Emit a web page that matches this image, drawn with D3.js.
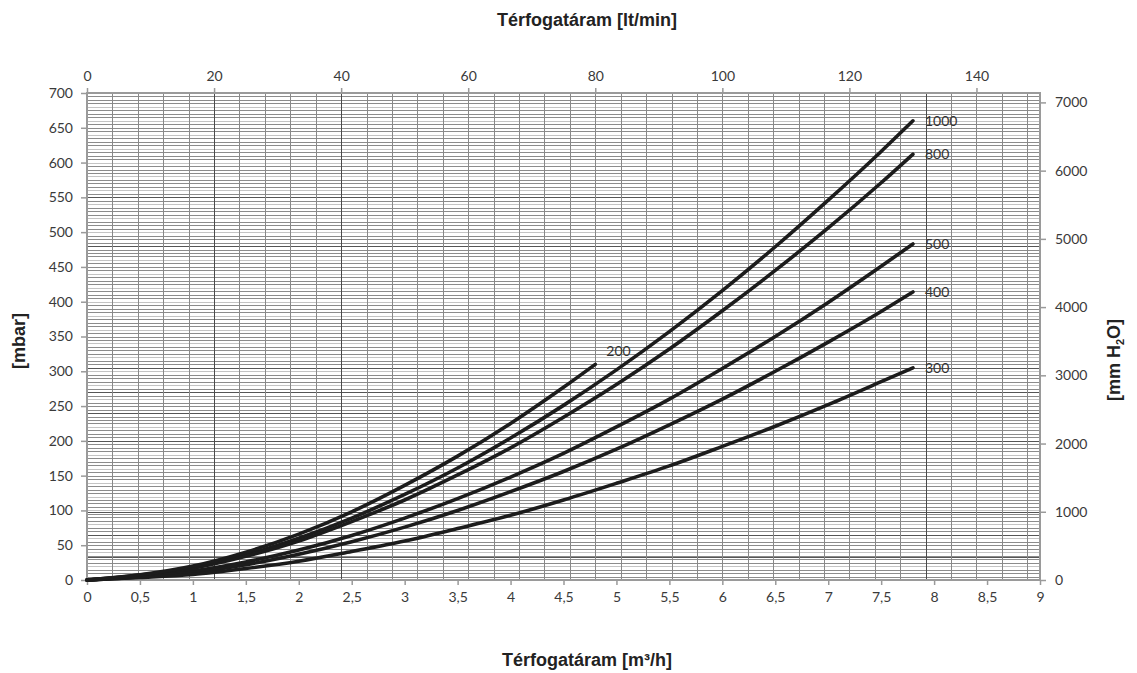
<!DOCTYPE html>
<html><head><meta charset="utf-8">
<script src="https://cdn.jsdelivr.net/npm/d3@7"></script>
<style>
html,body{margin:0;padding:0;background:#fff;}
svg{display:block;}
.tick text{font-family:Lato,"Open Sans",sans-serif;font-size:14px;fill:#3a3a3a;}
.ttl{font-family:"Liberation Sans",Arial,sans-serif;font-weight:bold;font-size:18px;fill:#222;}
.lbl{font-family:Lato,"Open Sans",sans-serif;font-size:14px;fill:#333;}
</style></head>
<body><svg id="c" width="1137" height="673"></svg>
<script>
// ---- data ----
const flowM3h = [0,0.5,1,1.5,2,2.5,3,3.5,4,4.5,5,5.5,6,6.5,7,7.5,7.8];
const flow200 = [0,0.5,1,1.5,2,2.5,3,3.5,4,4.5,4.8];
const p1000 = [0,7,18,36,60,89,123,161,204,251,302,357,416,479,546,616,660];
const p800  = [0,6.5,17,34,56,84,115,151,190,234,281,332,387,445,506,571,612];
const p500  = [0,5,13,26,43,64,89,117,148,182,220,260,304,350,399,451,483];
const p400  = [0,4.5,11,22,37,55,76,100,127,156,188,223,260,300,342,386,414];
const p300  = [0,3.5,8,16.5,27,41,56,74,93,115,139,164,192,221,252,285,305];
const p200  = [0,7.5,20,40,66,98,136,178,225,277,310];
const seriesNames = ["1000","800","500","400","300","200"];
const bottomTicks = [0,0.5,1,1.5,2,2.5,3,3.5,4,4.5,5,5.5,6,6.5,7,7.5,8,8.5,9];
const topTicks = [0,20,40,60,80,100,120,140];
const leftTicks = [0,50,100,150,200,250,300,350,400,450,500,550,600,650,700];
const rightTicks = [0,1000,2000,3000,4000,5000,6000,7000];
const darkVGrid = [20,40,132];          // lt/min
const darkHGrid = [33,65,98,200,240,270,305,480,550]; // mbar

// ---- layout ----
const svg = d3.select("#c");
const L=87,R=1040,T=93,B=580;
const x = d3.scaleLinear().domain([0,9]).range([L,R]);
const xTop = d3.scaleLinear().domain([0,150]).range([L,R]);
const y = d3.scaleLinear().domain([0,700]).range([B,T]);
const yR = d3.scaleLinear().domain([0,700*10.197]).range([B,T]);
const px = v => Math.round(v)+0.5;

const g = svg.append("g").attr("shape-rendering","crispEdges");
// horizontal minor grid
g.selectAll("line.hm").data(d3.range(5,700,5)).join("line")
  .attr("x1",L).attr("x2",R).attr("y1",d=>px(y(d))).attr("y2",d=>px(y(d)))
  .attr("stroke",(d,i)=> i%4===3 ? "#c4c4c4" : "#8c8c8c").attr("stroke-width",1);
g.selectAll("line.hd").data(darkHGrid).join("line")
  .attr("x1",L).attr("x2",R).attr("y1",d=>px(y(d))).attr("y2",d=>px(y(d)))
  .attr("stroke","#555").attr("stroke-width",1);
// vertical grid
g.selectAll("line.vm").data(d3.range(4,150,4)).join("line")
  .attr("y1",T).attr("y2",B).attr("x1",d=>px(xTop(d))).attr("x2",d=>px(xTop(d)))
  .attr("stroke",d=>darkVGrid.includes(d)?"#4a4a4a":"#888").attr("stroke-width",1);

// frame
g.append("rect").attr("x",L).attr("y",T).attr("width",R-L).attr("height",B-T)
  .attr("fill","none").attr("stroke","#9a9a9a").attr("stroke-width",2);

// axes
function style(sel){ sel.select(".domain").remove(); sel.selectAll(".tick line").attr("stroke","#9a9a9a").attr("stroke-width",1.5); }
svg.append("g").attr("transform",`translate(0,${B})`)
  .call(d3.axisBottom(x).tickValues(bottomTicks).tickSize(5).tickPadding(7).tickFormat(d=>String(d).replace(".",",")))
  .call(style);
svg.append("g").attr("transform",`translate(0,${T})`)
  .call(d3.axisTop(xTop).tickValues(topTicks).tickSize(5).tickPadding(7).tickFormat(d=>d))
  .call(style);
svg.append("g").attr("transform",`translate(${L},0)`)
  .call(d3.axisLeft(y).tickValues(leftTicks).tickSize(6).tickPadding(8).tickFormat(d=>d))
  .call(style);
svg.append("g").attr("transform",`translate(${R},0)`)
  .call(d3.axisRight(yR).tickValues(rightTicks).tickSize(6).tickPadding(9).tickFormat(d=>d))
  .call(style);

// curves
const series = [
  {name:"1000", xs:flowM3h, ys:p1000},
  {name:"800",  xs:flowM3h, ys:p800},
  {name:"500",  xs:flowM3h, ys:p500},
  {name:"400",  xs:flowM3h, ys:p400},
  {name:"300",  xs:flowM3h, ys:p300},
  {name:"200",  xs:flow200, ys:p200}
];
const line = d3.line().x(d=>x(d[0])).y(d=>y(d[1])).curve(d3.curveMonotoneX);
series.forEach(s=>{
  const pts = s.xs.map((v,i)=>[v,s.ys[i]]);
  svg.append("path").datum(pts).attr("d",line).attr("fill","none")
    .attr("stroke","#1c1c1c").attr("stroke-width",3.6).attr("stroke-linecap","round");
  const last = pts[pts.length-1];
  const is200 = s.name==="200";
  svg.append("text").attr("class","lbl")
    .attr("x",x(last[0])+(is200?11:12))
    .attr("y",y(last[1])+(is200?-8:5))
    .text(s.name);
});

// titles
svg.append("text").attr("class","ttl").attr("x",587).attr("y",26).attr("text-anchor","middle").text("Térfogatáram [lt/min]");
svg.append("text").attr("class","ttl").attr("x",587).attr("y",666).attr("text-anchor","middle").text("Térfogatáram [m³/h]");
svg.append("text").attr("class","ttl").attr("transform","translate(25,341) rotate(-90)").attr("text-anchor","middle").text("[mbar]");
const rt = svg.append("text").attr("class","ttl").attr("transform","translate(1120,360) rotate(-90)").attr("text-anchor","middle");
rt.append("tspan").text("[mm H");
rt.append("tspan").attr("font-size","11px").attr("dy",4).text("2");
rt.append("tspan").attr("dy",-4).text("O]");
</script></body></html>
